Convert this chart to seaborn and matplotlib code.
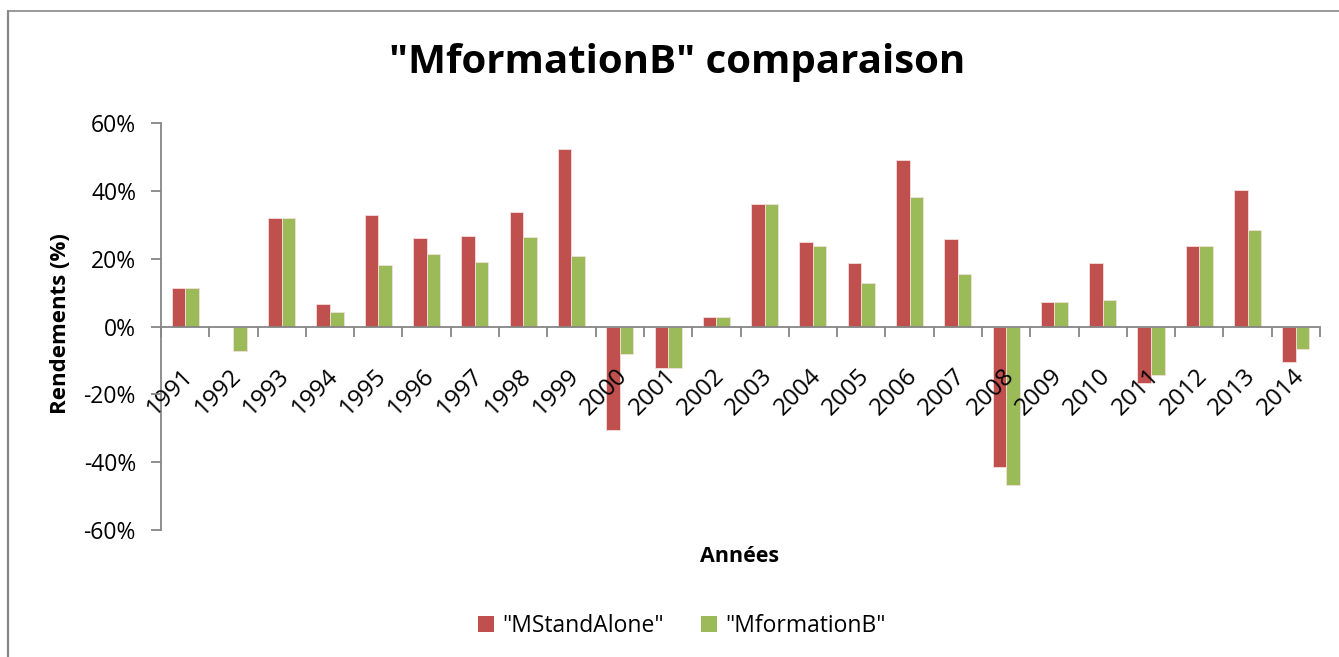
import matplotlib
matplotlib.use("Agg")
import matplotlib.pyplot as plt
import matplotlib.ticker as mticker
import matplotlib.transforms as mtransforms
from matplotlib.lines import Line2D
import seaborn as sns
import pandas as pd

years = [str(y) for y in range(1991, 2015)]
mstandalone = [11.3, 0.0, 32.0, 6.6, 32.9, 26.1, 26.6, 33.9, 52.3, -30.6,
               -12.2, 2.9, 36.2, 24.9, 18.7, 49.1, 25.8, -41.3, 7.2, 18.6,
               -16.6, 23.6, 40.3, -10.6]
mformationb = [11.3, -7.3, 32.0, 4.2, 18.1, 21.4, 19.0, 26.4, 20.7, -8.1,
               -12.2, 2.9, 36.2, 23.7, 12.7, 38.1, 15.4, -46.8, 7.2, 7.9,
               -14.4, 23.6, 28.4, -6.6]
series_names = ['"MStandAlone"', '"MformationB"']
colors = ["#C0504D", "#9BBB59"]
yticks = [-60, -40, -20, 0, 20, 40, 60]

df = pd.DataFrame({
    "year": years * 2,
    "value": [v / 100 for v in mstandalone] + [v / 100 for v in mformationb],
    "series": [series_names[0]] * len(years) + [series_names[1]] * len(years),
})

sns.set_theme(style="white")
plt.rcParams["font.family"] = ["Open Sans", "DejaVu Sans"]
plt.rcParams["text.color"] = "black"
plt.rcParams["xtick.color"] = "black"
plt.rcParams["ytick.color"] = "black"

W, H = 1339, 657
fig = plt.figure(figsize=(W / 100, H / 100), dpi=100)
ax = fig.add_axes([161 / W, 1 - 530 / H, (1320 - 161) / W, (530 - 123) / H])

sns.barplot(data=df, x="year", y="value", hue="series", palette=colors,
            width=0.56, gap=0, ax=ax, legend=False, saturation=1,
            edgecolor="#f4dede", linewidth=0.6)
ax.set_axisbelow(False)

ax.set_ylim(-0.6, 0.6)
ax.set_xlim(-0.5, len(years) - 0.5)
ax.set_yticks([t / 100 for t in yticks])
ax.yaxis.set_major_formatter(mticker.FuncFormatter(lambda v, p: f"{round(v * 100):d}%"))

gray = "#868686"
for s in ["top", "right"]:
    ax.spines[s].set_visible(False)
ax.spines["left"].set_color(gray)
ax.spines["left"].set_linewidth(1.3)
ax.spines["bottom"].set_color(gray)
ax.spines["bottom"].set_linewidth(1.3)
ax.spines["bottom"].set_position(("data", 0))

ax.tick_params(axis="y", direction="out", length=7, width=1.3, color=gray,
               labelsize=16.5, pad=11, labelcolor="black", left=True)
ax.tick_params(axis="x", which="major", length=0, labelsize=17.5, pad=27,
               labelcolor="black", bottom=True)
ax.set_xticks(range(len(years)))
ax.set_xticklabels(years, rotation=45, ha="right", va="top")
offset = mtransforms.ScaledTranslation(13 / 100, 0, fig.dpi_scale_trans)
for lab in ax.get_xticklabels():
    lab.set_transform(lab.get_transform() + offset)
ax.set_xticks([i + 0.5 for i in range(-1, len(years))], minor=True)
ax.tick_params(axis="x", which="minor", direction="out", length=7, width=1.3,
               color=gray, bottom=True)

ax.set_xlabel("")
ax.set_ylabel("")
fig.text(60 / W, 1 - 324 / H, "Rendements (%)", rotation=90, ha="center",
         va="center", fontsize=16, fontweight="bold", color="black")
fig.text(740 / W, 1 - 557 / H, "Années", ha="center", va="center",
         fontsize=15.5, fontweight="bold", color="black")
fig.text(677 / W, 1 - 62 / H, '"MformationB" comparaison', ha="center",
         va="center", fontsize=29, fontweight="bold", color="black")

handles = [plt.Rectangle((0, 0), 1, 1, facecolor=c, edgecolor="none") for c in colors]
fig.legend(handles, series_names, loc="center", ncol=2,
           bbox_to_anchor=(682 / W, 1 - 626 / H), frameon=False, fontsize=16.5,
           handlelength=0.68, handleheight=0.68, handletextpad=0.35,
           columnspacing=1.65, labelcolor="black")

# outer chart border
fig.add_artist(Line2D([8 / W, 8 / W], [0, 1 - 11 / H], color=gray, lw=1.6,
                      transform=fig.transFigure))
fig.add_artist(Line2D([8 / W, 1], [1 - 11 / H, 1 - 11 / H], color=gray, lw=1.2,
                      transform=fig.transFigure))

fig.savefig("out.png", dpi=100)
